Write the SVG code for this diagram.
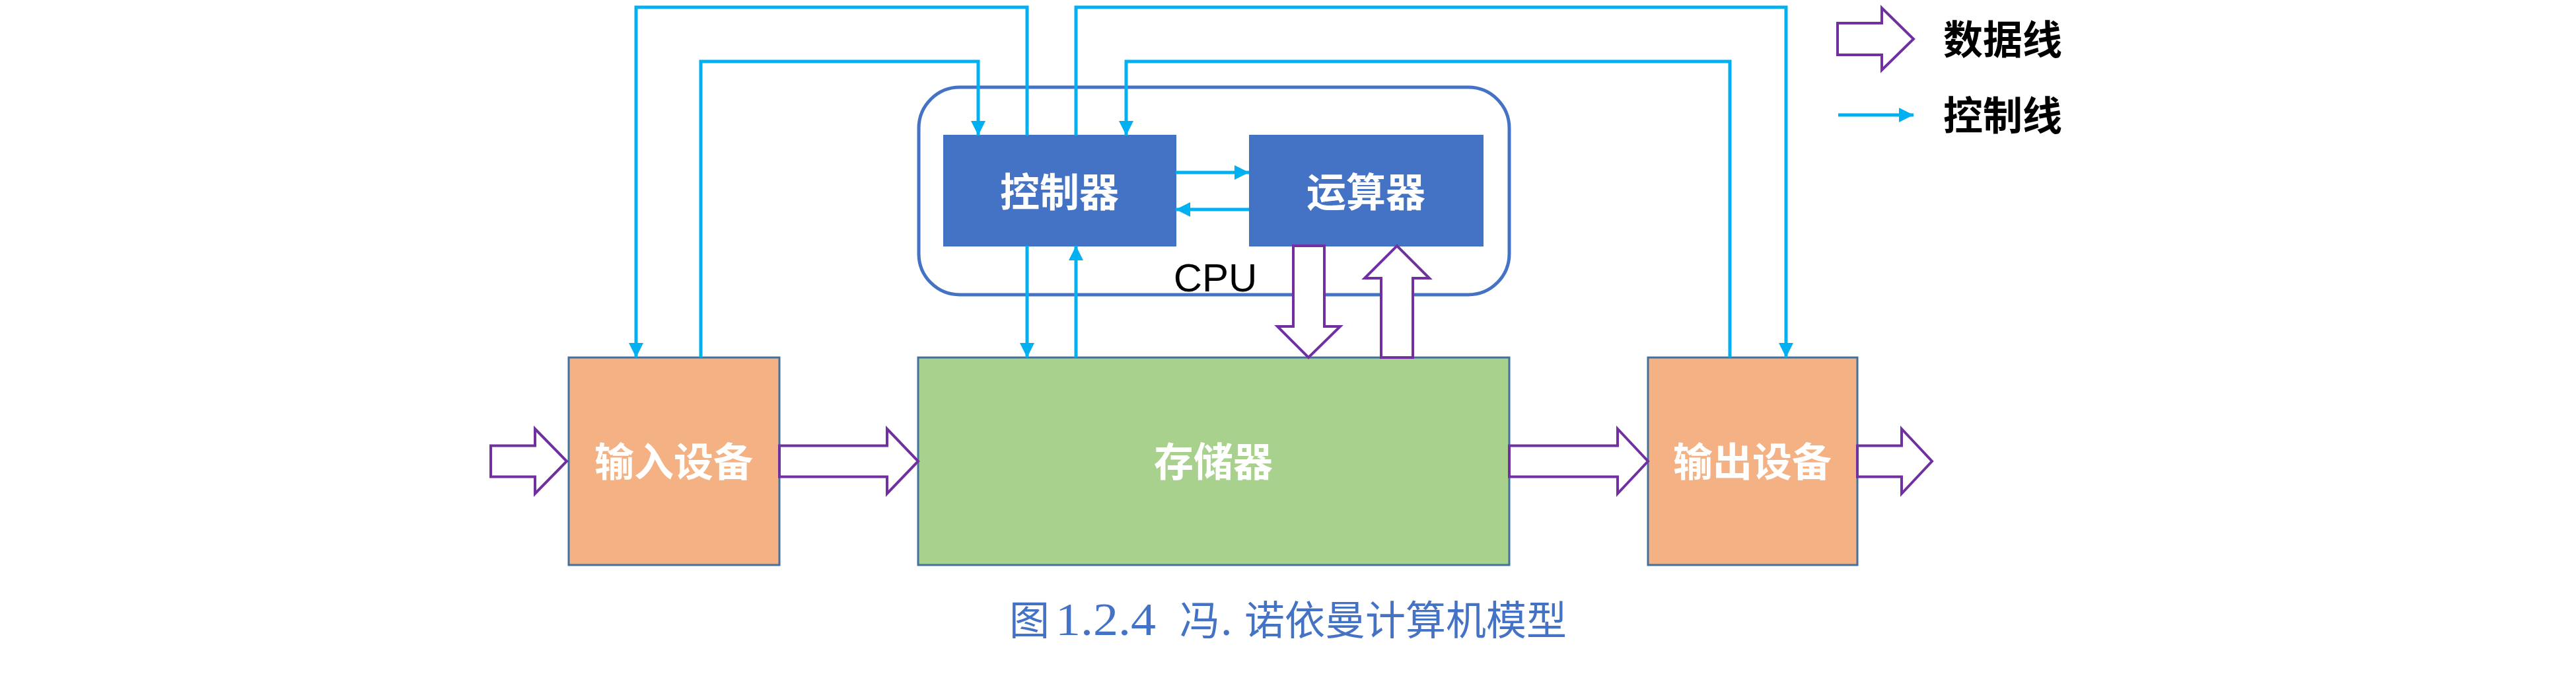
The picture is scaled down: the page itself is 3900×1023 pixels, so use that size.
<svg xmlns="http://www.w3.org/2000/svg" width="3900" height="1023" viewBox="0 0 3900 1023">
<style>
.ctl{fill:none;stroke:#00B0F0;stroke-width:5}
.data{fill:#FFFFFF;stroke:#7030A0;stroke-width:4;stroke-linejoin:miter}
.cpu{fill:#4472C4;stroke:#4472C4;stroke-width:2}
.io{fill:#F4B183;stroke:#41719C;stroke-width:3}
.mem{fill:#A9D18E;stroke:#41719C;stroke-width:3}
.lbl{font-family:"Noto Sans CJK SC","Noto Sans",sans-serif;font-weight:bold;font-size:60px;fill:#FFFFFF;text-anchor:middle}
.leg{font-family:"Noto Sans CJK SC","Noto Sans",sans-serif;font-weight:bold;font-size:60px;fill:#000000}
.cap{font-family:"Noto Sans CJK SC",sans-serif;font-size:61px;fill:#4472C4}
.capn{font-family:"Liberation Serif",serif;font-size:70px;fill:#4472C4}
</style>
<defs>
<marker id="ah" markerUnits="userSpaceOnUse" markerWidth="24" markerHeight="22" refX="22" refY="11" orient="auto">
<path d="M0,0 L22,11 L0,22 z" fill="#00B0F0"/>
</marker>
</defs>
<rect width="3900" height="1023" fill="#FFFFFF"/>

<g id="cpu-frame">
<rect x="1391" y="132" width="894" height="314" rx="62" ry="62" fill="none" stroke="#4472C4" stroke-width="5"/>
<text x="1840" y="441" font-family="'Liberation Sans',Arial,sans-serif" font-size="60" fill="#000000" text-anchor="middle">CPU</text>
</g>

<g id="controller">
<rect class="cpu" x="1429" y="205" width="351" height="167"/>
<text class="lbl" x="1604" y="313">控制器</text>
</g>

<g id="alu">
<rect class="cpu" x="1892" y="205" width="353" height="167"/>
<text class="lbl" x="2068" y="313">运算器</text>
</g>

<g id="input">
<rect class="io" x="861" y="541" width="319" height="314"/>
<text class="lbl" x="1020" y="721">输入设备</text>
</g>

<g id="memory">
<rect class="mem" x="1390" y="541" width="895" height="314"/>
<text class="lbl" x="1837" y="721">存储器</text>
</g>

<g id="output">
<rect class="io" x="2495" y="541" width="317" height="314"/>
<text class="lbl" x="2653" y="721">输出设备</text>
</g>

<g id="connectors">
<path class="ctl" d="M1555,205 V11 H963 V541" marker-end="url(#ah)"/>
<path class="ctl" d="M1061,541 V93 H1481 V205" marker-end="url(#ah)"/>
<path class="ctl" d="M1629,205 V11 H2704 V541" marker-end="url(#ah)"/>
<path class="ctl" d="M2619,541 V93 H1705 V205" marker-end="url(#ah)"/>
<path class="ctl" d="M1555,372 V541" marker-end="url(#ah)"/>
<path class="ctl" d="M1629,541 V372" marker-end="url(#ah)"/>
<path class="ctl" d="M1780,261 H1891" marker-end="url(#ah)"/>
<path class="ctl" d="M1891,317 H1780" marker-end="url(#ah)"/>

<polygon class="data" points="743,674.5 810,674.5 810,649 858,698 810,747 810,721.5 743,721.5"/>
<polygon class="data" points="1180,674.5 1343,674.5 1343,649 1390,698 1343,747 1343,721.5 1180,721.5"/>
<polygon class="data" points="2285,674.5 2449,674.5 2449,649 2495,698 2449,747 2449,721.5 2285,721.5"/>
<polygon class="data" points="2812,674.5 2879,674.5 2879,649 2925,698 2879,747 2879,721.5 2812,721.5"/>
<polygon class="data" points="1958,372 2005,372 2005,494 2029,494 1981,541 1934,494 1958,494"/>
<polygon class="data" points="2091,541 2139,541 2139,421 2164,421 2115,372 2066,421 2091,421"/>
</g>

<g id="legend">
<polygon class="data" points="2782,35 2849,35 2849,12 2897,59 2849,106 2849,83 2782,83"/>
<text class="leg" x="2942" y="82">数据线</text>
<path class="ctl" d="M2783,174 H2897" marker-end="url(#ah)"/>
<text class="leg" x="2942" y="197">控制线</text>
</g>

<g id="caption">
<text class="cap" x="1528" y="961">图</text>
<text class="capn" x="1598" y="961" textLength="152" lengthAdjust="spacingAndGlyphs">1.2.4</text>
<text class="cap" x="1786" y="961">冯</text>
<text class="capn" x="1848" y="961">.</text>
<text class="cap" x="1884" y="961">诺依曼计算机模型</text>
</g>
</svg>
